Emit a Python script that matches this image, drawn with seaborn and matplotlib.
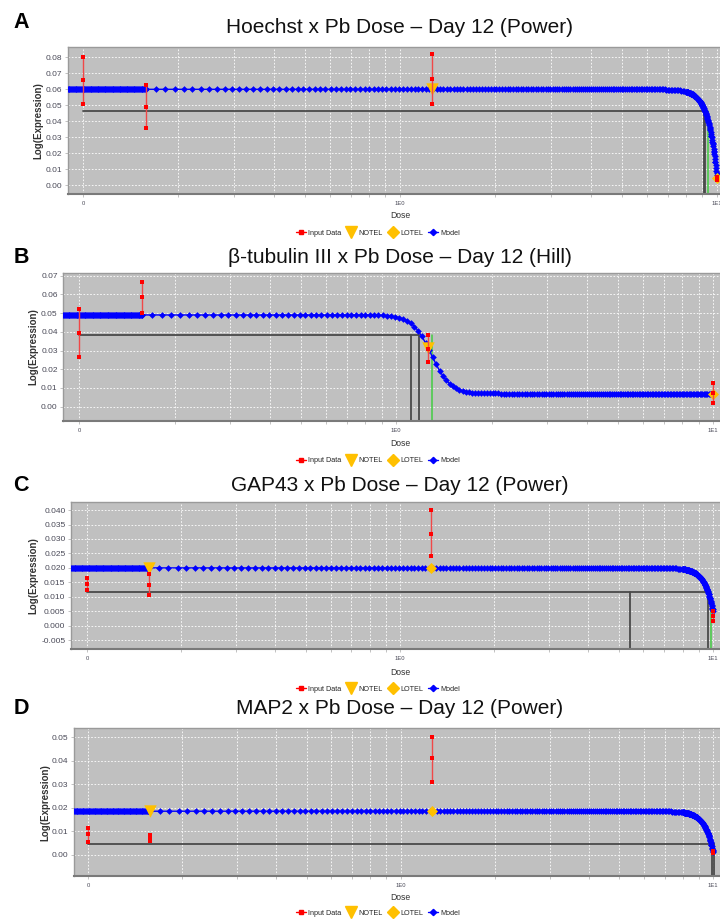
import numpy as np
import pandas as pd
import seaborn as sns
import matplotlib
matplotlib.use("Agg")
import matplotlib.pyplot as plt
from matplotlib.lines import Line2D
from matplotlib.ticker import FixedLocator, FixedFormatter, NullFormatter

sns.set_theme(style="white")
plt.rcParams["font.family"] = ["Liberation Sans", "DejaVu Sans"]

W, H = 720, 921

# ---------------- data ----------------
# Pb doses; the untreated control (0) is drawn at 0.1 on the log axis
doses = [0.0, 0.158, 1.26, 10.0]
ZERO_POS = 0.1

# triplicate responses per dose, Log(Expression)
hoechst_values = [0.0804, 0.0658, 0.0508,
                  0.0625, 0.0491, 0.0360,
                  0.0819, 0.0664, 0.0508,
                  0.0055, 0.0045, 0.0035]
tubulin_values = [0.0520, 0.0394, 0.0267,
                  0.0668, 0.0585, 0.0502,
                  0.0382, 0.0308, 0.0239,
                  0.0128, 0.0075, 0.0021]
gap43_values = [0.0166, 0.0143, 0.0125,
                0.0178, 0.0141, 0.0106,
                0.0400, 0.0317, 0.0240,
                0.0049, 0.0033, 0.0016]
map2_values = [0.0115, 0.0087, 0.0053,
               0.0085, 0.0070, 0.0060,
               0.0500, 0.0410, 0.0310,
               0.0015, 0.0012, 0.0009]

# fitted model parameters
hoechst_power = dict(c=0.0600, b=-5.55e-18, p=16)
tubulin_hill = dict(c=0.0490, v=-0.0420, n=14.5, k=1.29)
gap43_power = dict(c=0.0200, b=-1.50e-18, p=16)
map2_power = dict(c=0.0185, b=-1.75e-18, p=16)

# benchmark dose results: (BMR level, BMDL, BMD, BMDU)
hoechst_bmd = (0.0464, 9.10, 9.15, 9.37)
tubulin_bmd = (0.0381, 1.115, 1.184, 1.296)
gap43_bmd = (0.0117, 5.43, 9.64, 9.85)
map2_bmd = (0.0044, 9.95, 10.05, None)

# NOTEL / LOTEL doses
hoechst_tel = (1.26, 10.0)
tubulin_tel = (1.26, 10.0)
gap43_tel = (0.158, 1.26)
map2_tel = (0.158, 1.26)

titles = ["Hoechst x Pb Dose \u2013 Day 12 (Power)",
          "\u03b2-tubulin III x Pb Dose \u2013 Day 12 (Hill)",
          "GAP43 x Pb Dose \u2013 Day 12 (Power)",
          "MAP2 x Pb Dose \u2013 Day 12 (Power)"]
letters = ["A", "B", "C", "D"]


def power_model(x, c, b, p):
    return c + b * np.power(x, p)


def hill_model(x, c, v, n, k):
    xn = np.power(x, n)
    return c + v * xn / (k ** n + xn)


panels = [
    dict(values=hoechst_values, model=lambda x: power_model(x, **hoechst_power),
         bmd=hoechst_bmd, tel=hoechst_tel, fine=(8.0, 10.0),
         box=(67.7, 46.7, 730, 194.3), xl=(-1.048, 1.041), yl=(-0.0056, 0.0866),
         yt=np.arange(0, 0.0801, 0.01), fmt="{:.2f}",
         title_y=33, letter_y=28, ylab_x=38, dose_y=215.7, leg_y=233),
    dict(values=tubulin_values, model=lambda x: hill_model(x, **tubulin_hill),
         bmd=tubulin_bmd, tel=tubulin_tel, fine=None,
         box=(63.3, 273, 727, 420.7), xl=(-1.050, 1.044), yl=(-0.0075, 0.0714),
         yt=np.arange(0, 0.0701, 0.01), fmt="{:.2f}",
         title_y=263, letter_y=263, ylab_x=33, dose_y=443, leg_y=460.7),
    dict(values=gap43_values, model=lambda x: power_model(x, **gap43_power),
         bmd=gap43_bmd, tel=gap43_tel, fine=(8.0, 10.0),
         box=(71, 502.3, 722, 649.3), xl=(-1.051, 1.029), yl=(-0.0082, 0.0427),
         yt=np.arange(-0.005, 0.0401, 0.005), fmt="{:.3f}",
         title_y=491, letter_y=491, ylab_x=33, dose_y=672, leg_y=689),
    dict(values=map2_values, model=lambda x: power_model(x, **map2_power),
         bmd=map2_bmd, tel=map2_tel, fine=(8.0, 10.0),
         box=(74, 728.3, 725, 876), xl=(-1.045, 1.038), yl=(-0.0091, 0.0538),
         yt=np.arange(0, 0.0501, 0.01), fmt="{:.2f}",
         title_y=714, letter_y=714, ylab_x=45, dose_y=897, leg_y=913),
]

RED = "#ff0000"
BLUE = "#0000ff"
GOLD = "#ffc000"
GREEN = "#44cc44"
DARK = "#4a4a4a"
TICK_C = "#4a4a58"

fig = plt.figure(figsize=(W / 100, H / 100), dpi=100)

for i, pn in enumerate(panels):
    l, t, r, b = pn["box"]
    ax = fig.add_axes([l / W, 1 - b / H, (r - l) / W, (b - t) / H])
    ax.set_xscale("log")
    xlo, xhi = 10 ** pn["xl"][0], 10 ** pn["xl"][1]
    ax.set_xlim(xlo, xhi)
    ax.set_ylim(*pn["yl"])
    ax.set_facecolor("#c0c0c0")

    pos = [ZERO_POS if d == 0 else d for d in doses]
    df = pd.DataFrame({
        "dose_id": np.repeat(np.arange(len(doses)), 3),
        "pos": np.repeat(pos, 3),
        "expr": pn["values"],
    })

    # grid
    ax.xaxis.set_major_locator(FixedLocator([0.1, 1.0, 10.0]))
    ax.xaxis.set_major_formatter(FixedFormatter(["0", "1E0", "1E1"]))
    minors = [m * 0.1 for m in range(2, 10)] + [float(m) for m in range(2, 10)]
    ax.xaxis.set_minor_locator(FixedLocator(minors))
    ax.xaxis.set_minor_formatter(NullFormatter())
    ax.set_yticks(pn["yt"])
    ax.set_yticklabels([pn["fmt"].format(v + 0.0) for v in pn["yt"]])
    ax.grid(True, which="both", axis="x", color="white",
            linestyle=(0, (2, 2)), linewidth=0.6)
    ax.grid(True, which="major", axis="y", color="white",
            linestyle=(0, (2, 2)), linewidth=0.6)
    ax.set_axisbelow(True)

    # benchmark dose lines
    bmr, bmdl, bmd, bmdu = pn["bmd"]
    ylo = pn["yl"][0]
    ax.plot([ZERO_POS, bmd], [bmr, bmr], color=DARK, lw=1.3, zorder=2)
    for xv in (bmdl, bmd):
        ax.plot([xv, xv], [ylo, bmr], color=DARK, lw=1.3, zorder=2)
    if bmdu is not None:
        ax.plot([bmdu, bmdu], [ylo, bmr], color=GREEN, lw=1.1, zorder=2)

    # model curve: dense below the first dose, evenly spaced in sqrt(dose)
    # above it, and finer where the power curve turns down
    root = np.arange(np.sqrt(pos[1]), np.sqrt(doses[-1]) + 1e-9, 0.0146)
    parts = [np.geomspace(xlo, pos[1], 90), root ** 2]
    if pn["fine"] is not None:
        parts.append(np.arange(pn["fine"][0], pn["fine"][1] + 1e-9, 0.025))
    grid = np.unique(np.concatenate(parts))
    sns.lineplot(x=grid, y=pn["model"](grid), ax=ax, color=BLUE,
                 marker="D", markersize=3.4, markeredgewidth=0,
                 linewidth=1.0, sort=False, estimator=None, zorder=3)

    # NOTEL / LOTEL
    notel, lotel = pn["tel"]
    sns.scatterplot(x=[notel], y=pn["model"](np.array([notel])), ax=ax,
                    marker="v", s=80, color=GOLD, linewidth=0, zorder=4)
    sns.scatterplot(x=[lotel], y=pn["model"](np.array([lotel])), ax=ax,
                    marker="D", s=32, color=GOLD, linewidth=0, zorder=4)

    # input data
    sns.lineplot(data=df, x="pos", y="expr", units="dose_id", estimator=None,
                 ax=ax, color="#f04848", linewidth=1.0, zorder=5)
    sns.scatterplot(data=df, x="pos", y="expr", ax=ax, marker="s", s=12,
                    color=RED, linewidth=0, zorder=6)

    ax.set_xlabel("")
    ax.set_ylabel("")
    for side, sp in ax.spines.items():
        sp.set_visible(True)
        sp.set_color("#9a9a9a")
        sp.set_linewidth(1.0)
    ax.spines["bottom"].set_color("#7a7a7a")
    ax.spines["bottom"].set_linewidth(1.5)
    ax.tick_params(axis="x", which="both", bottom=True, direction="out",
                   length=2.5, width=0.6, color="#b8b8b8",
                   labelsize=4.2, labelcolor=TICK_C, pad=2.5)
    ax.tick_params(axis="y", which="major", left=True, direction="out",
                   length=2, width=0.6, color="#b8b8b8",
                   labelsize=6, labelcolor=TICK_C, pad=2)

    fig.text(400 / W, 1 - pn["title_y"] / H, titles[i], ha="center",
             va="baseline", fontsize=15, color="#111111")
    fig.text(21 / W, 1 - pn["letter_y"] / H, letters[i], ha="center",
             va="baseline", fontsize=15.5, fontweight="bold", color="black")
    fig.text(pn["ylab_x"] / W, 1 - ((t + b) / 2) / H, "Log(Expression)",
             rotation=90, ha="center", va="center", fontsize=7,
             fontweight="bold", color="#333333")
    fig.text(400 / W, 1 - pn["dose_y"] / H, "Dose", ha="center",
             va="center", fontsize=6.2, color="#333333")

    handles = [
        Line2D([], [], color=RED, marker="s", markersize=3.2, lw=1.0),
        Line2D([], [], color=GOLD, marker="v", markersize=9, lw=0),
        Line2D([], [], color=GOLD, marker="D", markersize=6, lw=0),
        Line2D([], [], color=BLUE, marker="D", markersize=3.2, lw=1.0),
    ]
    fig.legend(handles, ["Input Data", "NOTEL", "LOTEL", "Model"],
               loc="center", bbox_to_anchor=(378 / W, 1 - pn["leg_y"] / H),
               ncol=4, frameon=False, fontsize=5.2, handlelength=1.4,
               columnspacing=0.7, handletextpad=0.3, borderpad=0)

fig.savefig("out.png", dpi=100)
